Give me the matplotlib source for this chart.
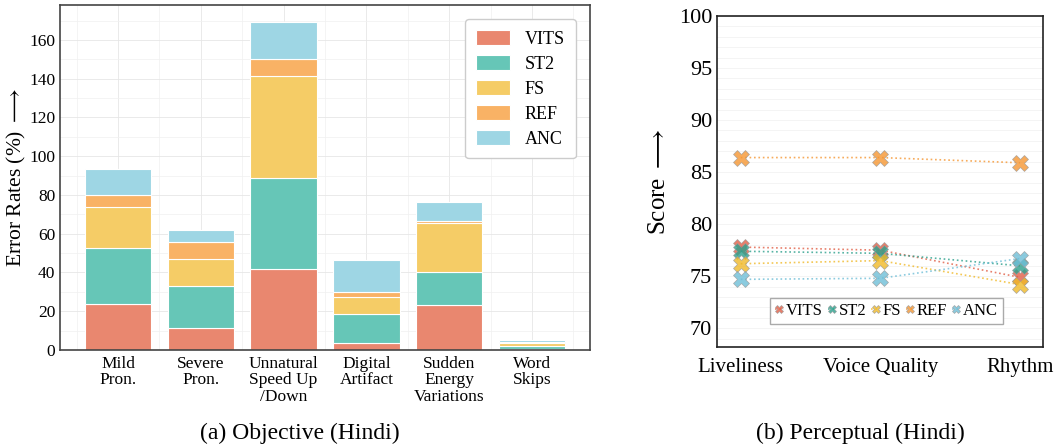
import numpy as np
import matplotlib
matplotlib.use("Agg")
import matplotlib.pyplot as plt
from matplotlib.ticker import MultipleLocator

plt.rcParams['font.family'] = ['Liberation Serif', 'DejaVu Serif']
plt.rcParams['mathtext.fontset'] = 'stix'

# objective error rates per system (%), stacked per category
categories = ["Mild\nPron.", "Severe\nPron.", "Unnatural\nSpeed Up\n/Down",
              "Digital\nArtifact", "Sudden\nEnergy\nVariations", "Word\nSkips"]
systems = ["VITS", "ST2", "FS", "REF", "ANC"]
vits_err = [23.7, 11.2, 41.6, 3.4, 23.0, 0.4]
st2_err = [28.8, 21.8, 47.2, 15.4, 17.3, 1.8]
fs_err = [21.3, 14.0, 52.8, 8.6, 25.1, 1.3]
ref_err = [6.2, 8.6, 8.6, 2.7, 1.2, 0.4]
anc_err = [13.4, 6.4, 18.8, 16.2, 10.0, 1.3]

# perceptual scores
aspects = ["Liveliness", "Voice Quality", "Rhythm"]
vits_score = [77.8, 77.5, 74.9]
st2_score = [77.4, 77.2, 76.0]
fs_score = [76.2, 76.5, 74.2]
ref_score = [86.4, 86.4, 85.9]
anc_score = [74.7, 74.8, 76.7]

bar_colors = ["#E9876F", "#66C6B7", "#F5CC66", "#F9B265", "#9ED6E4"]
line_colors = ["#E15F46", "#2CA08C", "#F0B928", "#F59632", "#6EBED7"]

fig = plt.figure(figsize=(10.55, 4.44), dpi=100)

# (a) stacked bars
ax1 = fig.add_axes([60 / 1055, 94 / 444, 530 / 1055, 345 / 444])
x = np.arange(len(categories))
bottom = np.zeros(len(categories))
for name, vals, c in zip(systems, [vits_err, st2_err, fs_err, ref_err, anc_err], bar_colors):
    ax1.bar(x, vals, 0.8, bottom=bottom, color=c, edgecolor="white",
            linewidth=0.8, label=name, zorder=2)
    bottom += np.array(vals)
ax1.set_xlim(-0.7, 5.7)
ax1.set_ylim(0, 178)
ax1.set_xticks(x)
ax1.set_xticklabels(categories, fontsize=12.5, linespacing=1.05)
ax1.yaxis.set_major_locator(MultipleLocator(20))
ax1.yaxis.set_minor_locator(MultipleLocator(10))
ax1.xaxis.set_minor_locator(MultipleLocator(0.5))
ax1.tick_params(axis='y', labelsize=12.5, length=0, which='both')
ax1.tick_params(axis='x', length=0, which='both', pad=4)
ax1.grid(True, which='major', color="#e6e6e6", linewidth=0.6, zorder=0)
ax1.grid(True, which='minor', color="#f0f0f0", linewidth=0.5, zorder=0)
ax1.set_axisbelow(True)
for s in ax1.spines.values():
    s.set_color("#444444")
    s.set_linewidth(1.2)
ax1.set_ylabel(r"Error Rates (%) $\longrightarrow$", fontsize=15.5, labelpad=1)
ax1.legend(loc="upper right", fontsize=13, handlelength=1.9, handleheight=0.9,
           handletextpad=0.8, labelspacing=0.4, borderpad=0.6, framealpha=1,
           edgecolor="#cccccc", bbox_to_anchor=(0.99, 0.985))

# (b) perceptual scores
ax2 = fig.add_axes([717 / 1055, 97 / 444, 326 / 1055, 331 / 444])
xp = np.arange(len(aspects))
for name, vals, c in zip(systems, [vits_score, st2_score, fs_score, ref_score, anc_score], line_colors):
    ax2.plot(xp, vals, linestyle=":", linewidth=1.2, color=c, alpha=0.8,
             marker="X", markersize=11, markeredgecolor="#9a9a9a",
             markeredgewidth=0.5, label=name, zorder=3)
ax2.set_xlim(-0.17, 2.165)
ax2.set_ylim(68.2, 100)
ax2.set_xticks(xp)
ax2.set_xticklabels(aspects, fontsize=15)
ax2.yaxis.set_major_locator(MultipleLocator(5))
ax2.yaxis.set_minor_locator(MultipleLocator(1))
ax2.tick_params(axis='y', length=0, which='both', labelsize=16)
ax2.tick_params(axis='x', length=0, which='both', labelsize=15, pad=8)
ax2.grid(True, axis='y', which='both', color="#f2f2f2", linewidth=0.6, zorder=0)
for s in ax2.spines.values():
    s.set_color("#222222")
    s.set_linewidth(1.2)
ax2.set_ylabel(r"Score $\longrightarrow$", fontsize=18, labelpad=6)
ax2.legend(loc="lower center", bbox_to_anchor=(0.52, 0.07), ncol=5, fontsize=12,
           handlelength=0.5, handletextpad=0.15, columnspacing=0.3,
           markerscale=0.5, borderpad=0.3, borderaxespad=0, framealpha=1,
           edgecolor="#aaaaaa", fancybox=False)

fig.text(300 / 1055, 1 - 433 / 444, "(a) Objective (Hindi)", ha="center", va="center", fontsize=17)
fig.text(860 / 1055, 1 - 433 / 444, "(b) Perceptual (Hindi)", ha="center", va="center", fontsize=17)

fig.savefig("out.png", dpi=100)
